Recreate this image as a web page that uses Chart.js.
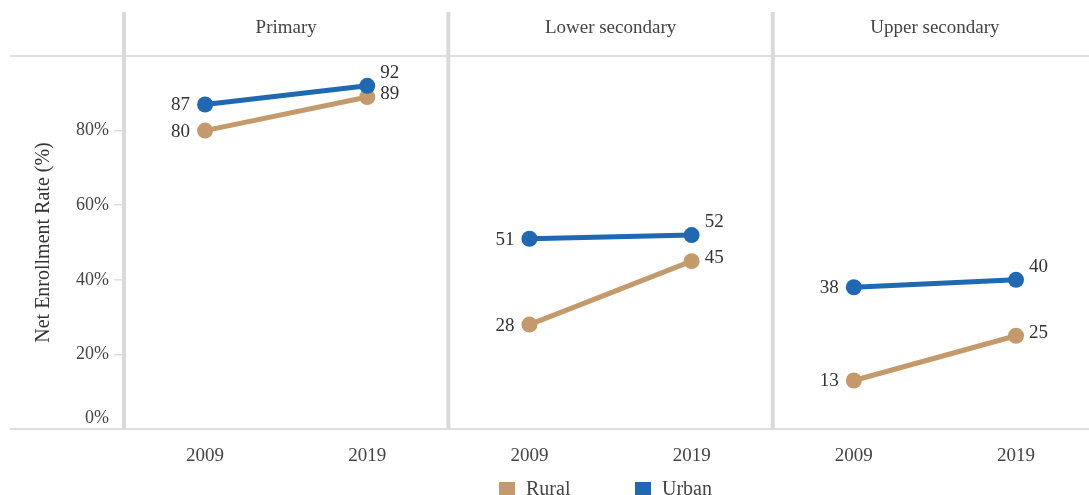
<!DOCTYPE html>
<html>
<head>
<meta charset="utf-8">
<script src="https://cdn.jsdelivr.net/npm/chart.js@4/dist/chart.umd.min.js"></script>
<style>
  html, body { margin: 0; padding: 0; overflow: hidden; background: #fff; }
  canvas { display: block; }
</style>
</head>
<body>
<canvas id="chart" width="1089" height="495"></canvas>
<script>
const panels = ["Primary", "Lower secondary", "Upper secondary"];
const years = ["2009", "2019"];
const rural = [[80, 89], [28, 45], [13, 25]];
const urban = [[87, 92], [51, 52], [38, 40]];
const yTicks = [0, 20, 40, 60, 80];

const RURAL = "#c4996b";
const URBAN = "#1f69b3";
const TEXT = "#444444";
const LINE = "#dedede";

Chart.defaults.font.family = "'Liberation Serif', serif";
Chart.defaults.color = TEXT;

// one slot per panel/year, slots 0..5 along a linear x axis
const labels = panels.flatMap(() => years);
const toPoints = (values) => values.flat().map((v, i) => ({ x: i, y: v }));

// no line between the last year of one panel and the first of the next
const breakSegments = (color) => ({
  borderColor: (ctx) => (ctx.p0DataIndex % 2 === 1 ? "rgba(0,0,0,0)" : color),
});

const makeSeries = (label, values, color, order) => ({
  label: label,
  data: toPoints(values),
  borderColor: color,
  backgroundColor: color,
  pointBackgroundColor: color,
  pointBorderWidth: 0,
  pointRadius: 8,
  pointHoverRadius: 8,
  borderWidth: 5,
  tension: 0,
  order: order,
  segment: breakSegments(color),
});

const facetPlugin = {
  id: "facets",
  beforeDatasetsDraw(chart) {
    const { ctx, chartArea, scales } = chart;
    const x = scales.x;
    ctx.save();
    ctx.strokeStyle = LINE;
    ctx.lineWidth = 2;
    [chartArea.top, chartArea.bottom].forEach((y) => {
      ctx.beginPath();
      ctx.moveTo(10, y);
      ctx.lineTo(chart.width, y);
      ctx.stroke();
    });
    ctx.strokeStyle = "#d9d9d9";
    ctx.lineWidth = 4;
    for (let i = 0; i <= panels.length; i++) {
      const px = x.getPixelForValue(i * years.length - 0.5);
      ctx.beginPath();
      ctx.moveTo(px, 12);
      ctx.lineTo(px, chartArea.bottom);
      ctx.stroke();
    }
    ctx.fillStyle = TEXT;
    ctx.font = "19px 'Liberation Serif', serif";
    ctx.textAlign = "center";
    ctx.textBaseline = "middle";
    panels.forEach((p, i) => {
      const cx = x.getPixelForValue(i * years.length + (years.length - 1) / 2);
      ctx.fillText(p, cx, 28);
    });
    ctx.restore();
  },
  afterDatasetsDraw(chart) {
    const { ctx } = chart;
    ctx.save();
    ctx.fillStyle = "#333333";
    ctx.font = "19px 'Liberation Serif', serif";
    ctx.textBaseline = "middle";
    chart.data.datasets.forEach((ds, di) => {
      const meta = chart.getDatasetMeta(di);
      meta.data.forEach((pt, i) => {
        const v = ds.data[i].y;
        if (i % 2 === 0) {
          ctx.textAlign = "right";
          ctx.fillText(v, pt.x - 15, pt.y + 1);
        } else {
          ctx.textAlign = "left";
          ctx.fillText(v, pt.x + 13, pt.y - (ds.label === "Urban" ? 13 : 3));
        }
      });
    });
    ctx.restore();
  },
  afterDraw(chart) {
    const { ctx } = chart;
    const items = [["Rural", RURAL], ["Urban", URBAN]];
    ctx.save();
    ctx.font = "20px 'Liberation Serif', serif";
    ctx.textBaseline = "middle";
    ctx.textAlign = "left";
    let x = 499;
    items.forEach(([name, color]) => {
      ctx.fillStyle = color;
      ctx.fillRect(x, 482, 16, 16);
      ctx.fillStyle = TEXT;
      ctx.fillText(name, x + 27, 490);
      x += 136;
    });
    ctx.restore();
  },
};

new Chart(document.getElementById("chart"), {
  type: "line",
  data: {
    datasets: [
      makeSeries("Rural", rural, RURAL, 1),
      makeSeries("Urban", urban, URBAN, 0),
    ],
  },
  options: {
    responsive: false,
    animation: false,
    layout: { autoPadding: false, padding: { top: 56, left: 0, right: 0, bottom: 0 } },
    plugins: {
      legend: { display: false },
      tooltip: { enabled: false },
    },
    scales: {
      x: {
        type: "linear",
        min: -0.5,
        // the last panel runs slightly past the right edge of the picture
        max: 5.45,
        afterBuildTicks: (scale) => {
          scale.ticks = labels.map((_, i) => ({ value: i }));
        },
        grid: { display: false },
        border: { display: false },
        ticks: {
          padding: 8,
          autoSkip: false,
          maxRotation: 0,
          color: TEXT,
          font: { size: 19 },
          callback: (v) => labels[v],
        },
        afterFit: (scale) => {
          scale.height = 66;
        },
      },
      y: {
        min: 0,
        max: 100,
        afterBuildTicks: (scale) => {
          scale.ticks = yTicks.concat([100]).map((v) => ({ value: v }));
        },
        grid: {
          drawOnChartArea: false,
          drawTicks: true,
          tickLength: 10,
          color: LINE,
          lineWidth: 1.5,
        },
        border: { display: false },
        ticks: {
          padding: 5,
          color: TEXT,
          font: { size: 18 },
          // the 0% label sits just above the baseline
          callback: (v) => (v === 0 ? ["0%", ""] : yTicks.includes(v) ? v + "%" : ""),
        },
        title: {
          display: true,
          text: "Net Enrollment Rate (%)",
          color: "#333333",
          font: { size: 20 },
          padding: { top: 32, bottom: 0 },
        },
        afterFit: (scale) => {
          scale.width = 124;
        },
      },
    },
  },
  plugins: [facetPlugin],
});
</script>
</body>
</html>
